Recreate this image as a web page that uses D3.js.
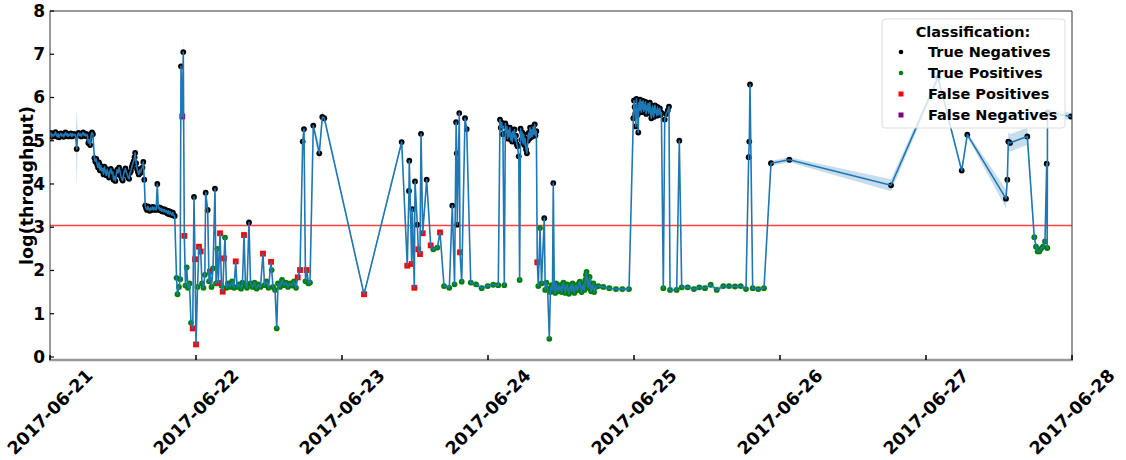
<!DOCTYPE html>
<html>
<head>
<meta charset="utf-8">
<script src="https://cdn.jsdelivr.net/npm/d3@7"></script>
<style>
  body { margin: 0; background: #fff; }
  svg text { font-family: "DejaVu Sans", sans-serif; font-weight: bold; }
</style>
</head>
<body>
<svg id="chart" width="1126" height="460"></svg>
<script>
// ---- data: [hours since 2017-06-21 00:00, log(throughput), class, ci half-width (optional)]
var startDay = '2017-06-21';
var endDay = '2017-06-28';
var yTicks = [0, 1, 2, 3, 4, 5, 6, 7, 8];
var threshold = 3.04;

var classes = ['TN', 'TP', 'FP', 'FN'];
var classLabels = ['True Negatives', 'True Positives', 'False Positives', 'False Negatives'];
var classColors = ['#000000', '#008000', '#ff0000', '#800080'];

var day21 = [
  [0.00,5.12,'TN'],[0.15,5.18,'TN'],[0.3,5.09,'TN'],[0.45,5.15,'TN'],[0.6,5.11,'TN'],[0.75,5.14,'TN'],
  [0.9,5.20,'TN'],[1.05,5.13,'TN'],[1.2,5.09,'TN'],[1.35,5.16,'TN'],[1.5,5.08,'TN'],[1.65,5.13,'TN'],
  [1.8,5.17,'TN'],[1.95,5.11,'TN'],[2.1,5.15,'TN'],[2.25,5.09,'TN'],[2.4,5.14,'TN'],[2.55,5.19,'TN'],
  [2.7,5.12,'TN'],[2.85,5.16,'TN'],[3.0,5.10,'TN'],[3.15,5.15,'TN'],[3.3,5.12,'TN'],[3.45,5.17,'TN'],
  [3.6,5.10,'TN'],[3.75,5.16,'TN'],[3.9,5.12,'TN'],[4.05,5.15,'TN'],[4.2,5.12,'TN'],
  [4.39,4.81,'TN',0.9],[4.55,5.14,'TN'],[4.7,5.18,'TN'],[4.85,5.12,'TN'],[5.0,5.16,'TN'],[5.15,5.10,'TN'],
  [5.3,5.15,'TN'],[5.45,5.19,'TN'],[5.6,5.12,'TN'],[5.75,5.16,'TN'],[5.9,5.11,'TN'],[6.05,5.15,'TN'],
  [6.15,5.12,'TN'],[6.3,4.95,'TN'],[6.45,5.02,'TN'],[6.6,4.90,'TN'],[6.75,5.12,'TN'],[6.9,5.19,'TN'],
  [7.05,5.15,'TN'],
  [7.3,4.60,'TN'],[7.45,4.52,'TN'],[7.6,4.58,'TN'],[7.75,4.45,'TN'],[7.9,4.38,'TN'],[8.05,4.50,'TN'],
  [8.2,4.32,'TN'],[8.35,4.42,'TN'],[8.5,4.30,'TN'],[8.65,4.36,'TN'],[8.8,4.22,'TN'],[8.95,4.40,'TN'],
  [9.1,4.28,'TN'],[9.25,4.20,'TN'],[9.4,4.34,'TN'],[9.55,4.25,'TN'],[9.7,4.15,'TN'],[9.85,4.30,'TN'],
  [10.0,4.35,'TN'],[10.15,4.24,'TN'],[10.3,4.28,'TN'],[10.45,4.10,'TN'],[10.6,4.18,'TN'],[10.75,4.07,'TN'],
  [10.9,4.22,'TN'],[11.05,4.33,'TN'],[11.2,4.26,'TN'],[11.35,4.38,'TN'],[11.5,4.30,'TN'],[11.65,4.18,'TN'],
  [11.8,4.12,'TN'],[11.95,4.08,'TN'],[12.1,4.22,'TN'],[12.25,4.30,'TN'],[12.4,4.36,'TN'],[12.55,4.27,'TN'],
  [12.7,4.22,'TN'],[12.85,4.15,'TN'],[13.0,4.12,'TN'],[13.15,4.26,'TN'],[13.3,4.30,'TN'],[13.45,4.40,'TN'],
  [13.6,4.46,'TN'],[13.75,4.52,'TN'],[13.9,4.62,'TN'],[14.0,4.72,'TN'],[14.15,4.48,'TN'],[14.3,4.35,'TN'],
  [14.45,4.28,'TN'],[14.6,4.22,'TN'],[14.75,4.32,'TN'],[14.9,4.26,'TN'],[15.05,4.36,'TN'],[15.2,4.38,'TN'],
  [15.34,4.51,'TN'],[15.5,4.10,'TN'],
  [15.65,3.50,'TN'],[15.8,3.44,'TN'],[15.95,3.40,'TN'],[16.1,3.48,'TN'],[16.25,3.42,'TN'],[16.4,3.38,'TN'],
  [16.55,3.45,'TN'],[16.7,3.41,'TN'],[16.85,3.47,'TN'],[17.0,3.40,'TN'],[17.15,3.46,'TN'],[17.3,3.42,'TN'],
  [17.45,3.40,'TN'],[17.64,4.00,'TN'],[17.8,3.43,'TN'],[17.95,3.46,'TN'],[18.1,3.39,'TN'],[18.25,3.44,'TN'],
  [18.4,3.37,'TN'],[18.55,3.42,'TN'],[18.7,3.36,'TN'],[18.85,3.41,'TN'],[19.0,3.35,'TN'],[19.15,3.39,'TN'],
  [19.3,3.32,'TN'],[19.45,3.38,'TN'],[19.6,3.30,'TN'],[19.75,3.36,'TN'],[19.9,3.31,'TN'],[20.05,3.28,'TN'],
  [20.2,3.34,'TN'],[20.35,3.27,'TN'],[20.5,3.26,'TN']
];

var day22 = [
  [20.8,1.83,'TP'],[20.96,1.45,'TP'],[21.2,1.62,'TP'],[21.4,1.80,'TP'],[21.53,6.72,'TN',0.3],
  [21.75,5.56,'FN',0.4],[21.91,7.05,'TN',0.4],[22.08,2.80,'FP'],[22.27,1.65,'TP'],[22.47,2.07,'TP'],
  [22.68,1.60,'TP'],[22.93,1.70,'TP'],[23.18,0.79,'TP'],[23.46,0.66,'FP'],[23.67,3.70,'TN'],
  [23.84,2.26,'FP'],[24.0,0.29,'FP'],[24.25,1.62,'TP'],[24.49,2.55,'FP'],[24.77,2.44,'FP'],
  [24.99,1.70,'TP'],[25.23,1.60,'TP'],[25.45,1.90,'TP'],[25.59,3.80,'TN'],[25.92,3.40,'TN'],
  [26.14,1.75,'TP'],[26.3,1.97,'FP'],[26.55,1.62,'TP'],[26.8,2.05,'TP'],[27.12,3.89,'TN'],
  [27.3,1.70,'TP'],[27.5,2.50,'TP'],[27.67,1.71,'FP'],[27.95,2.86,'FP'],[28.19,1.65,'TP'],
  [28.39,1.51,'FP'],[28.6,2.28,'FP'],[28.77,2.76,'TP'],[29.01,1.60,'TP'],[29.26,1.70,'TP'],
  [29.59,1.62,'TP'],[29.92,1.75,'TP'],[30.25,1.60,'TP'],[30.53,2.21,'FP'],[30.74,1.62,'TP'],
  [31.07,1.68,'TP'],[31.4,1.58,'TP'],[31.64,1.72,'TP'],[31.89,2.82,'FP'],[32.14,1.65,'TP'],
  [32.38,1.60,'TP'],[32.71,3.11,'TN'],[32.96,1.70,'TP'],[33.29,1.62,'TP'],[33.62,1.72,'TP'],
  [33.95,1.58,'TP'],[34.27,1.68,'TP'],[34.6,1.62,'TP'],[35.01,2.39,'FP'],[35.26,1.66,'TP'],
  [35.59,1.75,'TP'],[35.92,1.60,'TP'],[36.33,2.20,'FP'],[36.44,2.01,'TP'],[36.66,1.62,'TP'],
  [36.99,1.55,'TP'],[37.27,0.66,'TP'],[37.48,1.70,'TP'],[37.81,1.62,'TP'],[38.14,1.78,'TP'],
  [38.47,1.66,'TP'],[38.79,1.72,'TP'],[39.12,1.62,'TP'],[39.45,1.70,'TP'],[39.78,1.65,'TP'],
  [40.11,1.75,'TP'],[40.44,1.60,'TP'],[40.72,1.84,'FP'],[41.1,2.01,'FP'],[41.54,4.98,'TN'],
  [41.75,5.27,'TN'],[42.0,1.75,'TP'],[42.2,2.01,'FP'],[42.49,1.70,'TP'],[42.74,1.72,'TP'],
  [43.28,5.35,'TN'],[44.27,4.71,'TN',0.2],[44.76,5.55,'TN',0.15],[45.09,5.52,'TN'],[51.62,1.45,'FP']
];

var day23 = [
  [57.81,4.97,'TN'],[58.73,2.11,'FP'],[59.01,3.84,'TN'],[59.06,4.54,'TN'],[59.46,2.15,'FP'],
  [59.56,3.42,'TN'],[59.89,1.60,'FP',0.3],[60.0,4.06,'TN'],[60.38,3.06,'TN'],[60.54,2.49,'FP'],
  [60.82,2.38,'FP'],[60.99,5.16,'TN'],[61.27,2.86,'FP'],[61.92,4.10,'TN'],[62.58,2.58,'FP'],
  [63.01,2.49,'TP'],[63.67,2.53,'TP'],[64.11,2.88,'FP'],[64.77,1.64,'TP'],[65.64,1.60,'TP'],
  [66.13,3.50,'TN'],[66.5,1.68,'TP'],[66.76,5.43,'TN'],[66.86,4.71,'TN'],[66.95,3.06,'TN'],
  [67.28,5.64,'TN',0.15],[67.4,2.42,'FP'],[67.68,1.74,'TP'],[68.22,5.52,'TN'],[68.5,5.27,'TN'],
  [69.16,1.72,'TP'],[70.03,1.68,'TP'],[70.96,1.59,'TP'],[71.95,1.64,'TP'],[72.87,1.67,'TP'],
  [73.69,1.66,'TP']
];

var day24 = [
  [73.97,5.49,'TN'],[74.1,5.30,'TN'],[74.25,5.42,'TN'],[74.45,5.15,'TN'],[74.68,1.66,'TP'],
  [74.85,5.40,'TN'],[74.98,5.18,'TN'],[75.1,5.32,'TN'],[75.22,5.05,'TN'],[75.35,5.25,'TN'],
  [75.48,5.10,'TN'],[75.6,5.30,'TN'],[75.72,5.02,'TN'],[75.85,5.18,'TN'],[75.98,4.98,'TN'],
  [76.1,5.22,'TN'],[76.22,5.08,'TN'],[76.35,5.26,'TN'],[76.48,5.00,'TN'],[76.6,5.12,'TN'],
  [76.72,4.92,'TN'],[76.85,4.87,'TN'],[77.05,4.64,'TN'],[77.2,1.78,'TP'],
  [77.35,5.28,'TN'],[77.48,5.02,'TN'],[77.6,5.20,'TN'],[77.72,4.95,'TN'],[77.85,5.15,'TN'],
  [77.98,4.90,'TN'],[78.1,5.05,'TN'],[78.25,4.80,'TN'],[78.4,4.71,'TN'],[78.55,5.00,'TN'],
  [78.68,5.18,'TN'],[78.8,5.05,'TN'],[78.92,5.30,'TN'],[79.05,5.08,'TN'],[79.18,5.25,'TN'],
  [79.3,5.10,'TN'],[79.42,5.32,'TN'],[79.55,5.15,'TN'],[79.68,5.38,'TN'],[79.8,5.12,'TN'],
  [79.95,5.22,'TN'],[80.1,2.19,'FP'],[80.27,1.64,'TP'],[80.55,2.98,'TP',0.25],[80.8,1.70,'TP'],
  [81.25,3.21,'TN'],[81.4,1.55,'TP'],[81.6,1.72,'TP'],[81.8,1.58,'TP'],[82.08,0.42,'TP'],
  [82.25,1.50,'TP'],[82.45,1.66,'TP'],[82.6,1.55,'TP'],[82.73,4.02,'TN'],[82.9,1.58,'TP'],
  [83.05,1.48,'TP'],[83.2,1.70,'TP'],[83.35,1.58,'TP'],[83.5,1.52,'TP'],[83.65,1.66,'TP'],
  [83.8,1.55,'TP'],[83.95,1.62,'TP'],[84.1,1.50,'TP'],[84.25,1.68,'TP'],[84.4,1.72,'TP'],
  [84.55,1.58,'TP'],[84.7,1.48,'TP'],[84.85,1.64,'TP'],[85.0,1.68,'TP'],[85.15,1.55,'TP'],
  [85.3,1.46,'TP'],[85.45,1.60,'TP'],[85.6,1.66,'TP'],[85.75,1.52,'TP'],[85.9,1.70,'TP'],
  [86.05,1.58,'TP'],[86.2,1.48,'TP'],[86.35,1.62,'TP'],[86.5,1.66,'TP'],[86.65,1.54,'TP'],
  [86.8,1.58,'TP'],[86.95,1.70,'TP'],[87.1,1.74,'TP'],[87.25,1.60,'TP'],[87.4,1.50,'TP'],
  [87.55,1.62,'TP'],[87.7,1.68,'TP'],[87.85,1.55,'TP'],[88.0,1.78,'TP'],[88.1,1.90,'TP'],
  [88.2,1.97,'TP'],[88.32,1.70,'TP'],[88.45,1.60,'TP'],[88.58,1.75,'TP'],[88.7,1.85,'TP'],
  [88.82,1.62,'TP'],[88.95,1.52,'TP'],[89.08,1.66,'TP'],[89.2,1.58,'TP'],[89.32,1.70,'TP'],
  [89.45,1.50,'TP'],[89.7,1.62,'TP'],[90.13,1.64,'TP'],[90.95,1.62,'TP'],[91.94,1.59,'TP'],
  [93.04,1.57,'TP'],[94.08,1.57,'TP'],[95.18,1.57,'TP']
];

var day25 = [
  [95.89,5.52,'TN'],[96.0,5.93,'TN'],[96.1,5.78,'TN'],[96.2,5.62,'TN'],[96.3,5.33,'TN'],
  [96.4,5.97,'TN'],[96.5,5.75,'TN'],[96.6,5.60,'TN'],[96.7,5.19,'TN'],[96.8,5.88,'TN'],
  [96.9,5.70,'TN'],[97.0,5.95,'TN'],[97.1,5.80,'TN'],[97.2,5.66,'TN'],[97.3,5.90,'TN'],
  [97.4,5.74,'TN'],[97.5,5.92,'TN'],[97.6,5.68,'TN'],[97.7,5.85,'TN'],[97.8,5.72,'TN'],
  [97.9,5.90,'TN'],[98.0,5.62,'TN'],[98.1,5.80,'TN'],[98.2,5.70,'TN'],[98.3,5.86,'TN'],
  [98.4,5.64,'TN'],[98.5,5.78,'TN'],[98.6,5.88,'TN'],[98.7,5.66,'TN'],[98.85,5.52,'TN'],
  [98.95,5.74,'TN'],[99.05,5.80,'TN'],[99.15,5.62,'TN'],[99.25,5.55,'TN'],[99.35,5.76,'TN'],
  [99.45,5.82,'TN'],[99.55,5.64,'TN'],[99.65,5.70,'TN'],[99.75,5.58,'TN'],[99.85,5.78,'TN'],
  [99.95,5.66,'TN'],[100.05,5.60,'TN'],[100.15,5.72,'TN'],[100.25,5.75,'TN'],[100.38,5.60,'TN'],
  [100.5,5.65,'TN'],[100.82,1.59,'TP'],[101.05,5.49,'TN'],[101.3,5.62,'TN'],[101.55,5.70,'TN'],
  [101.75,5.79,'TN'],[101.92,1.55,'TP'],[103.02,1.55,'TP'],[103.45,5.00,'TN'],[103.84,1.61,'TP'],
  [104.83,1.61,'TP'],[105.86,1.57,'TP'],[106.73,1.61,'TP'],[107.67,1.59,'TP'],[108.61,1.67,'TP'],
  [109.6,1.55,'TP'],[110.68,1.64,'TP'],[111.62,1.64,'TP'],[112.6,1.63,'TP'],[113.54,1.64,'TP'],
  [114.41,1.57,'TP'],[114.85,4.62,'TN'],[114.95,4.98,'TN'],[115.07,6.30,'TN'],[115.51,1.59,'TP'],
  [116.43,1.57,'TP'],[117.37,1.59,'TP']
];

var day26 = [
  [118.52,4.48,'TN'],[121.53,4.56,'TN',0.06],[138.25,3.97,'TN',0.14],[145.97,6.46,'TN',0.08],
  [149.87,4.31,'TN'],[150.79,5.14,'TN',0.05],[157.15,3.66,'TN',0.22],[157.37,4.10,'TN'],
  [157.53,4.98,'TN',0.22],[157.81,4.95,'TN',0.2],[160.65,5.10,'TN',0.2],[161.8,2.77,'TP'],
  [162.08,2.55,'TP'],[162.36,2.44,'TP'],[162.62,2.44,'TP'],[162.9,2.50,'TP'],[163.23,2.55,'TP'],
  [163.56,2.67,'TP'],[163.84,4.47,'TN'],[163.93,2.52,'TP'],[163.97,5.65,'TN',0.1],[167.84,5.56,'TN',0.08]
];

// ---- layout
var svg = d3.select('#chart');
var margin = { left: 50, right: 54, top: 11, bottom: 100 };
var W = 1126, H = 460;
var t0 = new Date(startDay + 'T00:00:00Z').getTime();

var points = [].concat(day21, day22, day23, day24, day25, day26).map(function (d) {
  return {
    t: t0 + d[0] * 3600e3,
    v: d[1],
    c: d[2],
    ci: d[3] != null ? d[3] : 0.06
  };
});

var x = d3.scaleUtc()
  .domain([new Date(startDay + 'T00:00:00Z'), new Date(endDay + 'T00:00:00Z')])
  .range([margin.left, W - margin.right]);
var y = d3.scaleLinear().domain([-0.07, 8]).range([H - margin.bottom, margin.top]);

svg.append('defs').append('clipPath').attr('id', 'plotclip')
  .append('rect')
  .attr('x', margin.left).attr('y', margin.top)
  .attr('width', W - margin.right - margin.left)
  .attr('height', H - margin.bottom - margin.top);

var plot = svg.append('g').attr('clip-path', 'url(#plotclip)');

// threshold line
plot.append('line')
  .attr('x1', margin.left).attr('x2', W - margin.right)
  .attr('y1', y(threshold)).attr('y2', y(threshold))
  .attr('stroke', '#ff0000').attr('stroke-opacity', 0.75).attr('stroke-width', 1.5);

// confidence band
var band = d3.area()
  .x(function (d) { return x(d.t); })
  .y0(function (d) { return y(d.v - d.ci); })
  .y1(function (d) { return y(d.v + d.ci); });
plot.append('path').datum(points)
  .attr('d', band)
  .attr('fill', '#1f77b4').attr('fill-opacity', 0.25);

// classification markers
var colorOf = d3.scaleOrdinal().domain(classes).range(classColors);
plot.selectAll('circle.pt')
  .data(points.filter(function (d) { return d.c === 'TN' || d.c === 'TP'; }))
  .enter().append('circle')
  .attr('class', 'pt')
  .attr('cx', function (d) { return x(d.t); })
  .attr('cy', function (d) { return y(d.v); })
  .attr('r', 2.9)
  .attr('fill', function (d) { return colorOf(d.c); });
plot.selectAll('rect.pt')
  .data(points.filter(function (d) { return d.c === 'FP' || d.c === 'FN'; }))
  .enter().append('rect')
  .attr('class', 'pt')
  .attr('x', function (d) { return x(d.t) - 2.9; })
  .attr('y', function (d) { return y(d.v) - 2.9; })
  .attr('width', 5.8).attr('height', 5.8)
  .attr('fill', function (d) { return colorOf(d.c); });

// throughput line
var line = d3.line()
  .x(function (d) { return x(d.t); })
  .y(function (d) { return y(d.v); });
plot.append('path').datum(points)
  .attr('d', line)
  .attr('fill', 'none')
  .attr('stroke', '#1f77b4').attr('stroke-width', 1.6)
  .attr('stroke-linejoin', 'round');

// frame
var x0 = margin.left, x1 = W - margin.right, y0 = margin.top, y1 = H - margin.bottom;
svg.append('line').attr('x1', x0).attr('x2', x1).attr('y1', y0).attr('y2', y0).attr('stroke', '#333').attr('stroke-width', 1);
svg.append('line').attr('x1', x0).attr('x2', x0).attr('y1', y0).attr('y2', y1).attr('stroke', '#333').attr('stroke-width', 1);
svg.append('line').attr('x1', x1).attr('x2', x1).attr('y1', y0).attr('y2', y1).attr('stroke', '#333').attr('stroke-width', 1);
svg.append('line').attr('x1', x0 - 1).attr('x2', x1 + 1).attr('y1', y1).attr('y2', y1).attr('stroke', '#999').attr('stroke-width', 2.5);

// y axis
var yAxis = svg.append('g');
yTicks.forEach(function (t) {
  yAxis.append('line')
    .attr('x1', x0).attr('x2', x0 + 4)
    .attr('y1', y(t)).attr('y2', y(t))
    .attr('stroke', '#000').attr('stroke-width', 1.2);
  yAxis.append('text')
    .attr('x', x0 - 5).attr('y', y(t))
    .attr('text-anchor', 'end').attr('dominant-baseline', 'central')
    .style('font-size', '17px')
    .text(t);
});
svg.append('text')
  .attr('transform', 'translate(27,' + ((y0 + y1) / 2) + ') rotate(-90)')
  .attr('text-anchor', 'middle').attr('dominant-baseline', 'central')
  .style('font-size', '17.5px')
  .text('log(throughput)');

// x axis
var xTicks = x.ticks(d3.utcDay.every(1));
var fmt = d3.utcFormat('%Y-%m-%d');
var xAxis = svg.append('g');
xTicks.forEach(function (t) {
  xAxis.append('line')
    .attr('x1', x(t)).attr('x2', x(t))
    .attr('y1', y1).attr('y2', y1 - 5)
    .attr('stroke', '#000').attr('stroke-width', 1.5);
  xAxis.append('text')
    .attr('transform', 'translate(' + x(t) + ',' + (y1 + 52) + ') rotate(-45)')
    .attr('text-anchor', 'middle').attr('dominant-baseline', 'central')
    .style('font-size', '17.5px')
    .text(fmt(t));
});

// legend
var lg = svg.append('g').attr('transform', 'translate(882,19)');
lg.append('rect')
  .attr('width', 183).attr('height', 109).attr('rx', 3)
  .attr('fill', '#fff').attr('fill-opacity', 0.8)
  .attr('stroke', '#ddd');
lg.append('text')
  .attr('x', 91).attr('y', 13)
  .attr('text-anchor', 'middle').attr('dominant-baseline', 'central')
  .style('font-size', '14.5px')
  .text('Classification:');
classes.forEach(function (c, i) {
  var cy = 33 + i * 21;
  if (c === 'TN' || c === 'TP') {
    lg.append('circle').attr('cx', 19).attr('cy', cy).attr('r', 2.3).attr('fill', classColors[i]);
  } else {
    lg.append('rect').attr('x', 16.5).attr('y', cy - 2.5).attr('width', 5).attr('height', 5).attr('fill', classColors[i]);
  }
  lg.append('text')
    .attr('x', 46).attr('y', cy)
    .attr('dominant-baseline', 'central')
    .style('font-size', '14.5px')
    .text(classLabels[i]);
});
</script>
</body>
</html>
